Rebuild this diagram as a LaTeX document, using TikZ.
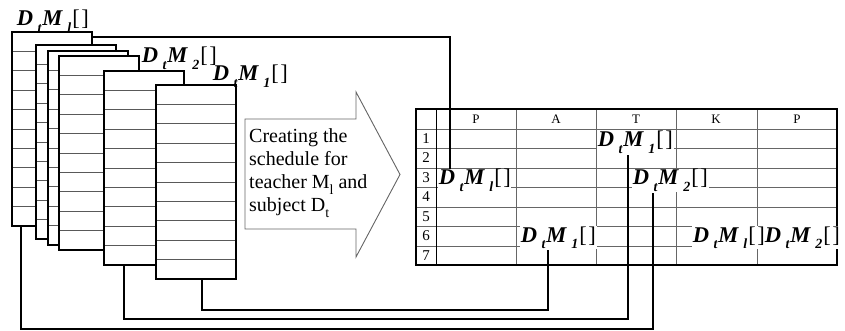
\documentclass[tikz,border=0pt]{standalone}
\usepackage{fontspec}
\setmainfont{Liberation Serif}
\newcommand{\mysub}[1]{\raisebox{-0.3em}{\fontsize{14}{14}\selectfont #1}}
\newcommand{\DM}[1]{\textit{D}\hspace{4.5pt}\mysub{\textit{t}}\hspace{0.5pt}\textit{M}\hspace{4.5pt}\mysub{\textit{#1}}\hspace{1pt}{\mdseries\upshape[\hspace{1.5pt}]}}
\newcommand{\txsub}[1]{\raisebox{-0.3em}{\fontsize{14}{14}\selectfont #1}}
\tikzset{
  card/.style={draw=black, line width=1.2pt, fill=white, minimum width=80pt, minimum height=194pt, anchor=north west, inner sep=0pt, outer sep=0pt},
  cardline/.style={draw=black!65, line width=0.7pt},
  lab/.style={font=\fontsize{22.5}{25}\selectfont\bfseries, inner sep=0.6pt, anchor=base west},
  tlab/.style={lab, fill=white},
  conn/.style={draw=black, line width=1.2pt},
  tabgrid/.style={draw=black!60, line width=0.8pt},
  tabborder/.style={draw=black, line width=1.3pt},
  hdr/.style={font=\fontsize{13}{13}\selectfont, inner sep=0pt},
  rnum/.style={font=\fontsize{15}{15}\selectfont, inner sep=0pt},
  arrowline/.style={draw=black!60, line width=0.9pt, fill=white}
}
\begin{document}
\begin{tikzpicture}[x=1pt, y=-1pt]
\useasboundingbox (0,0) rectangle (845,331);
% cards
\foreach \n/\x/\y in {c1/12/32, c2/36/45, c3/48/51, c4/59/56, c5/104/71, c6/156/85} {
  \node[card] (\n) at (\x,\y) {};
  \foreach \k in {1,...,9}
    \draw[cardline] ([yshift=-19.4*\k pt]\n.north west) -- ([yshift=-19.4*\k pt]\n.north east);
  \draw[line width=1.2pt] (\n.north west) rectangle (\n.south east);
}
% card labels
\node[lab] (lL) at (16,26) {\DM{l}};
\node[lab] (l2) at (141,63) {\DM{2}};
\node[lab] (l1) at (212,81) {\DM{1}};
% block arrow
\draw[arrowline] (245,119) -- (356,119) -- (356,92) -- (400,174.5) -- (356,257) -- (356,229) -- (245,229) -- cycle;
\node[anchor=north west, align=left, inner sep=0pt, font=\fontsize{20}{23}\selectfont] (atext) at (249,128)
  {Creating the\\schedule for\\teacher M\txsub{l} and\\subject D\txsub{t}};
% table
\node[minimum width=421pt, minimum height=156pt, anchor=north west, inner sep=0pt, outer sep=0pt] (tab) at (416,109) {};
\foreach \yy in {129,148,168,187,207,226,246}
  \draw[tabgrid] (416,\yy) -- (837,\yy);
\foreach \xx in {516,596,676,757}
  \draw[tabgrid] (\xx,109) -- (\xx,265);
\draw[black, line width=1pt] (436,109) -- (436,265);
\draw[tabborder] (tab.north west) rectangle (tab.south east);
\foreach \nm/\t/\xx in {h1/P/476, h2/A/556, h3/T/636, h4/K/716, h5/P/797}
  \node[hdr] (\nm) at (\xx,119) {\t};
\foreach \r/\yy in {1/138.5, 2/158, 3/177.5, 4/197, 5/216.5, 6/236, 7/255.5}
  \node[rnum] (r\r) at (426,\yy) {\r};
% connectors
\coordinate (xa) at (450,0);
\coordinate (xb) at (548,0);
\coordinate (xc) at (628,0);
\coordinate (xd) at (653,0);
% table labels
\node[tlab] (tT1) at (597,147) {\DM{1}};
\node[tlab] (tP3) at (438,185) {\DM{l}};
\node[tlab] (tT3) at (632,185) {\DM{2}};
\node[tlab] (tA6) at (520,242) {\DM{1}};
\node[tlab] (tK6) at (692,242) {\DM{l}\DM{2}};
\draw[conn] ([yshift=-5pt]c1.north east) -| (xa |- tP3.north);
\draw[conn] ([xshift=6pt]c6.south) -- ++(0,31) -| (xb |- tA6.south);
\draw[conn] ([xshift=-20pt]c5.south) -- ++(0,54) -| (xc |- tT1.south);
\draw[conn] ([xshift=-31pt]c1.south) -- ++(0,103) -| (xd |- tT3.south);
\end{tikzpicture}
\end{document}
